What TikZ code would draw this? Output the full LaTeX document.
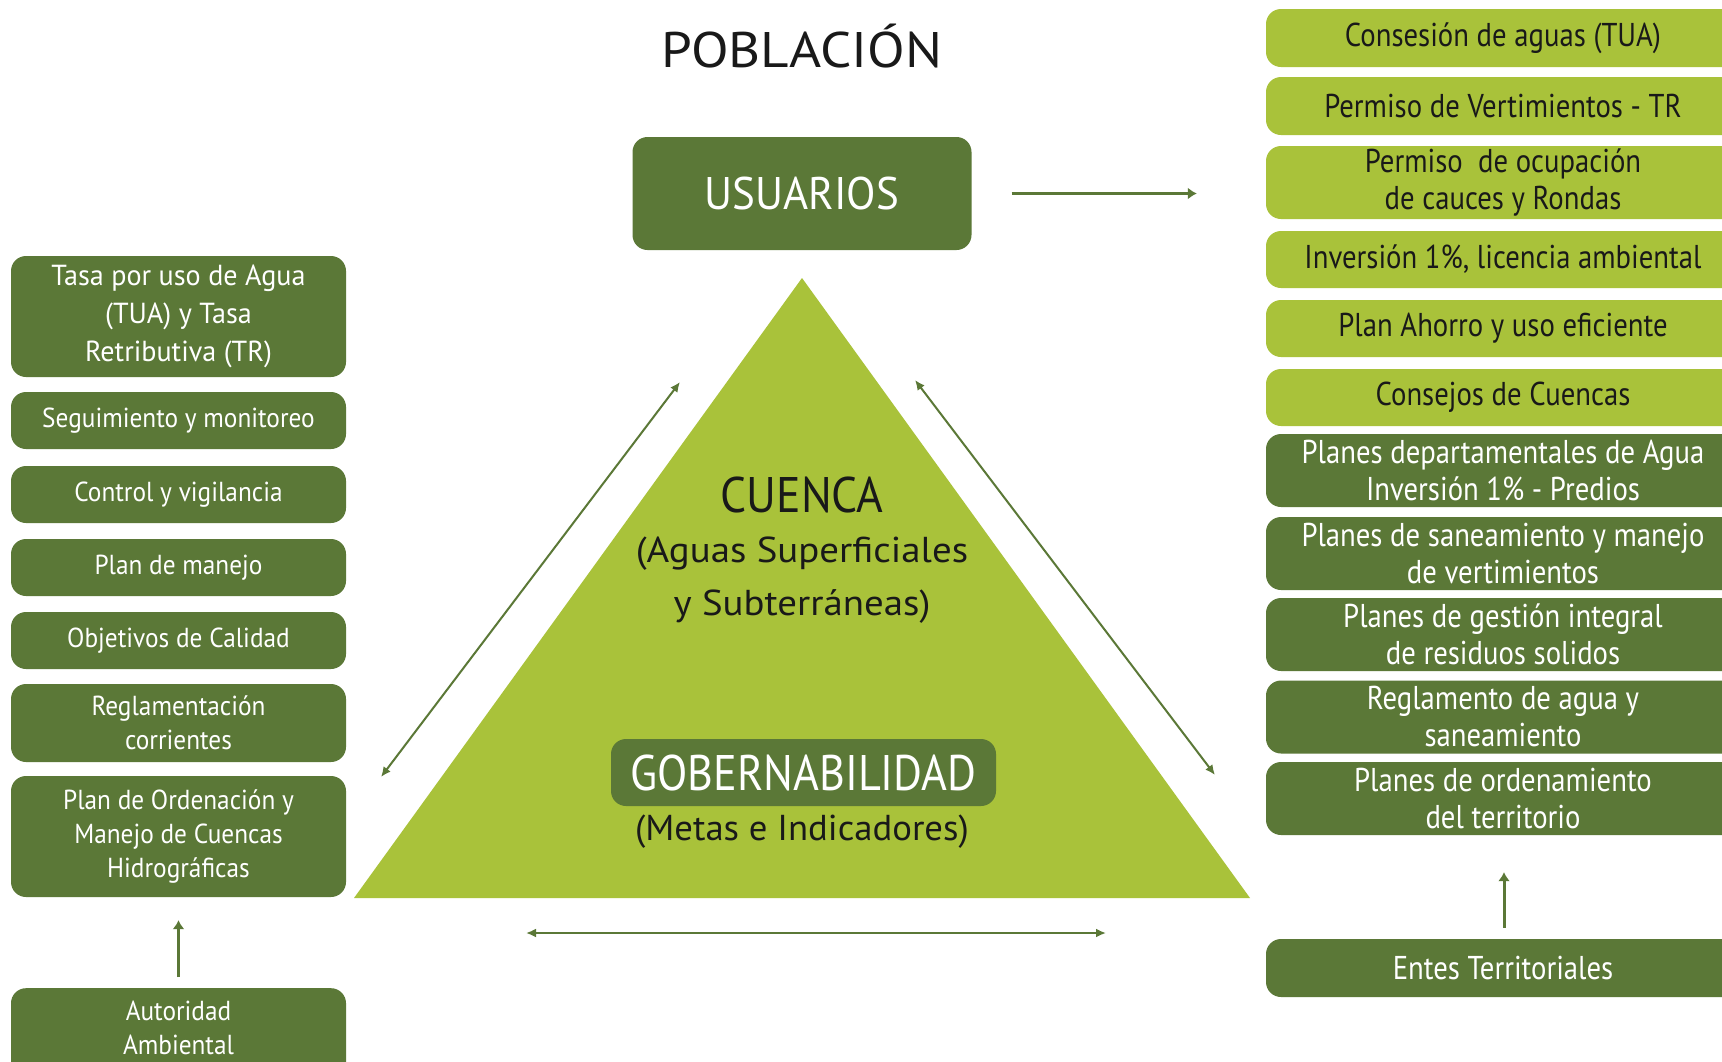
\documentclass[tikz,border=0pt]{standalone}
\usepackage{fontspec}
\setmainfont{PT Sans}
\usetikzlibrary{arrows.meta}
\definecolor{dkg}{HTML}{5B7837}
\definecolor{ltg}{HTML}{A9C23A}
\newcommand\myfs[3]{\fontsize{#1}{#2}\selectfont\addfontfeature{FakeStretch=#3}}
\begin{document}
\begin{tikzpicture}[x=1pt,y=-1pt,
  dk/.style={fill=dkg, text=white, rounded corners=15pt, align=center, inner sep=0pt},
  lt/.style={fill=ltg, text=black!90, rounded corners=15pt, align=center, inner sep=0pt},
  lbox/.style={dk, minimum width=335pt, minimum height=57pt, font=\myfs{27.5}{34}{0.92}},
  rbox/.style={minimum width=474pt, minimum height=58pt, font=\myfs{33}{37}{0.87}},
  conn/.style={draw=dkg, line width=2pt},
  dbl/.style={conn, {Latex[length=10pt,width=9pt]}-{Latex[length=10pt,width=9pt]}},
  one/.style={conn, line width=3pt, -{Latex[length=9pt,width=12pt]}},
  big/.style={anchor=base, text=black!90}
]
\clip (0,0) rectangle (1722,1061);
\fill[white] (0,0) rectangle (1722,1061);

% title
\node[big, font=\myfs{50}{60}{1.1}] (pob) at (802,67) {POBLACIÓN};

% usuarios
\node[dk, minimum width=339pt, minimum height=113pt, font=\myfs{45.7}{55}{0.94}] (usu) at (802,193.5) {USUARIOS};

% triangle
\coordinate (apex) at (802,278);
\coordinate (bl) at (354,898);
\coordinate (br) at (1250,898);
\fill[ltg] (apex) -- (bl) -- (br) -- cycle;

\node[big, font=\myfs{50}{58}{0.915}] (cuenca) at (802,512) {CUENCA};
\node[big, font=\myfs{36}{44}{1.08}] (aguas) at (802,562) {(Aguas Superficiales};
\node[big, font=\myfs{36}{44}{1.08}] (subt) at (802,615) {y Subterráneas)};

\node[dk, minimum width=385pt, minimum height=67pt, font=\myfs{50}{58}{0.885}] (gob) at (803.5,772.5) {GOBERNABILIDAD};
\node[big, font=\myfs{36}{44}{1.02}] (metas) at (802,840) {(Metas e Indicadores)};

% left column
\node[lbox, minimum height=121pt, font=\myfs{29}{38}{0.97}] (tasa) at (178.5,316.5) {Tasa por uso de Agua\\(TUA) y Tasa\\Retributiva (TR)};
\node[lbox] (seg) at (178.5,420.5) {Seguimiento y monitoreo};
\node[lbox] (ctrl) at (178.5,494.5) {Control y vigilancia};
\node[lbox] (pman) at (178.5,567.5) {Plan de manejo};
\node[lbox] (obj) at (178.5,640.5) {Objetivos de Calidad};
\node[lbox, minimum height=78pt] (regl) at (178.5,723) {Reglamentación\\corrientes};
\node[lbox, minimum height=121pt] (pomca) at (178.5,836.5) {Plan de Ordenación y\\Manejo de Cuencas\\Hidrográficas};
\node[lbox, minimum height=90pt, anchor=north] (aut) at (178.5,988) {};
\node[font=\myfs{27.5}{34}{0.92}, text=white, align=center, anchor=north] (autt) at (178.5,997) {Autoridad\\Ambiental};

% right column
\node[lt, rbox] (r1) at (1503,38) {Consesión de aguas (TUA)};
\node[lt, rbox] (r2) at (1503,106) {Permiso de Vertimientos - TR};
\node[lt, rbox, minimum height=73pt] (r3) at (1503,182.5) {Permiso\ \ de ocupación\\de cauces y Rondas};
\node[lt, rbox, minimum height=57pt] (r4) at (1503,259.5) {Inversión 1\%, licencia ambiental};
\node[lt, rbox, minimum height=57pt] (r5) at (1503,328.5) {Plan Ahorro y uso eficiente};
\node[lt, rbox, minimum height=57pt] (r6) at (1503,397.5) {Consejos de Cuencas};
\node[dk, rbox, minimum height=73pt] (r7) at (1503,470.5) {Planes departamentales de Agua\\Inversión 1\% - Predios};
\node[dk, rbox, minimum height=73pt] (r8) at (1503,553.5) {Planes de saneamiento y manejo\\de vertimientos};
\node[dk, rbox, minimum height=73pt] (r9) at (1503,634.5) {Planes de gestión integral\\de residuos solidos};
\node[dk, rbox, minimum height=73pt] (r10) at (1503,717) {Reglamento de agua y\\saneamiento};
\node[dk, rbox, minimum height=73pt] (r11) at (1503,798.5) {Planes de ordenamiento\\del territorio};
\node[dk, rbox] (entes) at (1503,968) {Entes Territoriales};

% connectors
\draw[one, line width=2.5pt, shorten <=40pt, shorten >=69pt] (usu.east) -- (usu.east -| r3.west);
\draw[one, shorten <=11pt, shorten >=23pt] (aut.north) -- (pomca.south);
\draw[one, shorten <=11pt, shorten >=37pt] (entes.north -| 1504,0) -- (r11.south -| 1504,0);

\coordinate (dl1) at (381,777);
\coordinate (dl2) at (680,382);
\coordinate (dr1) at (915,380);
\coordinate (dr2) at (1215,775);
\coordinate (b1) at (526,933);
\coordinate (b2) at (1106,933);
\draw[dbl] (dl1) -- (dl2);
\draw[dbl] (dr1) -- (dr2);
\draw[dbl, line width=2.5pt] (b1) -- (b2);
\end{tikzpicture}
\end{document}
